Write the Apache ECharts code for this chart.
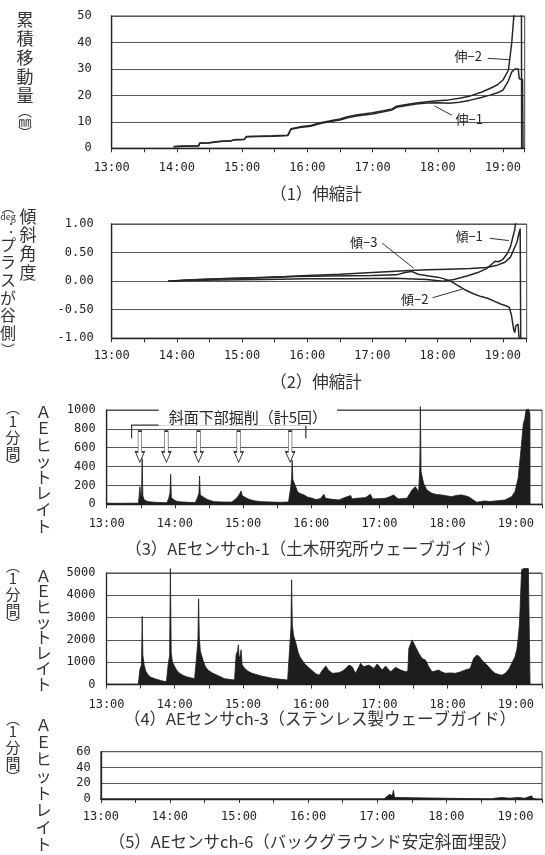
<!DOCTYPE html>
<html><head><meta charset="utf-8">
<script src="https://cdn.jsdelivr.net/npm/echarts@6/dist/echarts.min.js"></script>
<style>html,body{margin:0;padding:0;background:#fff}#c{width:545px;height:855px}</style>
</head><body><div id="c"></div>
<script>
// ---------- data (minutes after 13:00) ----------
const hourLabels = ['13:00','14:00','15:00','16:00','17:00','18:00','19:00'];

// (1) extensometers, cumulative displacement (mm)
const ext1 = [[57,0.6],[66,0.8],[80,0.9],[81,1.9],[89,2.0],[90,2.5],[100,2.6],[110,2.8],[112,3.1],[122,3.3],[124,4.4],[135,4.5],[148,4.6],[162,4.8],[165,7.2],[173,7.9],[183,8.3],[192,9.4],[200,10.0],[210,10.7],[217,11.5],[225,12.2],[240,13.0],[250,13.8],[258,14.5],[262,15.5],[270,16.1],[280,16.7],[290,17.1],[300,17.2],[310,17.0],[320,17.4],[330,18.2],[340,19.2],[348,20.1],[355,21.0],[360,22.0],[365,25.5],[368,28.8],[371,30.0],[374,30.0],[375,26.3],[378,26.0],[378.5,0]];
const ext2 = [[57,0.7],[66,0.9],[80,1.0],[81,2.0],[89,2.1],[90,2.6],[100,2.7],[110,2.9],[112,3.2],[122,3.4],[124,4.5],[135,4.6],[148,4.7],[162,4.9],[165,7.4],[173,8.1],[183,8.6],[192,9.7],[200,10.3],[210,11.1],[217,11.9],[225,12.6],[240,13.4],[250,14.2],[258,14.9],[262,15.9],[270,16.5],[280,17.1],[290,17.6],[300,18.0],[310,18.3],[320,18.9],[330,19.8],[340,21.2],[348,22.6],[355,24.0],[360,25.8],[365,29.5],[368,39.6],[370,49.7],[371,56],[377,56],[377.2,0]];

// (2) tilt meters (deg)
const tilt1 = [[52,0],[70,0.01],[100,0.02],[140,0.03],[180,0.04],[220,0.04],[260,0.05],[290,0.03],[305,0.0],[315,0.03],[327,0.09],[337,0.15],[345,0.22],[350,0.3],[353,0.35],[356,0.34],[360,0.38],[364,0.48],[367,0.6],[369,0.75],[371,0.9],[372,1.05]];
const tilt2 = [[52,0],[70,0.02],[100,0.04],[140,0.06],[170,0.08],[200,0.09],[240,0.1],[262,0.11],[270,0.15],[276,0.17],[282,0.12],[292,0.09],[300,0.07],[306,0.04],[312,0.0],[318,-0.07],[325,-0.15],[333,-0.22],[340,-0.27],[346,-0.3],[352,-0.35],[358,-0.4],[363,-0.43],[366,-0.46],[368,-0.6],[370,-0.85],[371,-0.9],[372,-0.78],[374,-0.75],[375,-1.0]];
const tilt3 = [[52,0],[70,0.02],[100,0.04],[130,0.06],[160,0.08],[180,0.1],[210,0.12],[240,0.15],[270,0.18],[290,0.2],[310,0.21],[330,0.22],[345,0.24],[355,0.28],[362,0.33],[367,0.42],[370,0.55],[373,0.68],[375,0.85],[376,0.92],[376.5,-1.0]];

// (3) AE ch-1 hit rate per minute
const aeCh1 = [[0,12],[10,10],[20,12],[28,12],[29.2,187],[30,80],[30.7,120],[31.2,488],[31.8,90],[33,46],[36.5,28],[42,22],[48.2,18],[53,16],[54.6,64],[55.7,120],[56.3,318],[56.9,70],[58,57],[60,40],[62.7,28],[70,22],[78,18],[80.2,81],[81.2,120],[81.7,300],[82.3,99],[84,80],[87.6,57],[91,40],[94.9,28],[103,24],[110,24],[113,50],[115.3,81],[117,110],[118.3,141],[119.3,90],[121,81],[124,60],[127,46],[131,35],[135.8,28],[145,24],[153.3,21],[160,25],[162,187],[162.7,280],[163.2,470],[163.8,260],[165,240],[166.5,180],[167.9,134],[170,115],[173.7,99],[177,75],[181,64],[184,50],[188,60],[191.2,106],[192.5,64],[197,55],[204.4,46],[209,70],[214.6,92],[216,57],[221,65],[227.8,71],[232,106],[234,57],[240,60],[245.3,64],[249,80],[252.6,99],[255,70],[257,57],[261,62],[264.2,64],[268.6,152],[271.6,187],[274.5,134],[275.5,400],[276,1035],[276.6,346],[278.8,223],[281.7,152],[286.1,117],[290,105],[294.9,99],[299,90],[303.6,81],[308,95],[312.4,99],[318.3,81],[322.6,46],[325.6,21],[329,30],[332.9,35],[337,30],[341.6,35],[346,40],[350.4,46],[356.2,81],[359.2,134],[362,276],[364.9,629],[366.5,850],[367.9,912],[369,1000],[371,1010],[372.4,960],[372.5,0]];

// (4) AE ch-3 hit rate per minute
const aeCh3 = [[0,15],[10,10],[20,12],[28,15],[29.3,650],[30.8,900],[31.4,3050],[32,1300],[33.1,880],[34.5,600],[36.6,430],[39,330],[42.5,260],[48.3,170],[52.7,120],[54.2,880],[55.5,1300],[56.2,5200],[56.9,1420],[58,1000],[60,800],[62,620],[64.4,500],[67,420],[70.2,350],[74,300],[77.5,260],[79,1100],[80.4,2000],[81,3840],[81.6,2150],[82.5,1500],[84.8,1100],[87,800],[89.2,650],[93,520],[98,400],[103.8,260],[108,230],[112.6,200],[114,1330],[115.3,1500],[116,1780],[116.6,1200],[117.6,1300],[118.4,1550],[119.2,900],[121,750],[124.2,600],[128,500],[133,430],[137,370],[141.7,320],[147,270],[153.5,230],[159.3,200],[160.8,1400],[162.2,2500],[162.8,4700],[163.4,2680],[164.5,2200],[166.6,1850],[168.5,1450],[170,1250],[173.9,950],[177,800],[181,620],[184,480],[187,420],[190,650],[193,830],[195,650],[198.7,500],[204.5,530],[208,620],[210.4,720],[213.3,870],[216,800],[219,500],[223.5,950],[226,800],[230.8,870],[235.2,720],[238,920],[242.5,650],[245.4,830],[249.8,570],[254.2,770],[258.6,650],[263,570],[265,600],[265.9,1620],[268.8,2000],[271.7,1700],[274.6,1400],[277.5,1170],[280.5,1100],[283.4,800],[286.3,570],[289,600],[292.1,650],[295,560],[298,500],[302,520],[306.8,500],[311,560],[315.5,650],[319.9,720],[322.8,1170],[325.7,1320],[328,1250],[330,1100],[333,950],[336,800],[339,620],[341.8,500],[345,450],[347.6,420],[350,480],[352,570],[354,700],[356.4,950],[359.3,1250],[361,1600],[362.2,2150],[363,2600],[363.7,3350],[364.4,4300],[365.1,5150],[367,5200],[369,5200],[371,5200],[372.4,5200],[372.5,0]];

// (5) AE ch-6 hit rate per minute
const aeCh6 = [[0,0],[246,0],[247,2],[249,4],[250,3],[251,6],[252,8],[253,4],[254,11],[255,2],[256,0],[340,0],[342,1],[348,2],[355,1],[362,2],[368,1],[374,4],[375,1],[378,0]];

// annotation anchors
const excavationTimes = [29.2, 52.5, 80.8, 116.1, 161.4];
const excavationBracket = [[21.9,700],[21.9,840],[175.2,840],[175.2,700]];

// ---------- styling helpers ----------
const CJK = '"Noto Sans CJK JP", sans-serif';
const TICK = '"DejaVu Sans Mono", monospace';
const INK = '#262626';
const plain = function(v){ return String(v); };

function xAx(g, max, margin){
  return {type:'value', gridIndex:g, min:0, max:max, interval:30,
    axisLine:{show:true, onZero:false, lineStyle:{color:'#222', width:1.3}},
    axisTick:{show:true, inside:false, length:4, lineStyle:{color:'#333', width:1}},
    axisLabel:{show:true, margin:margin, fontFamily:TICK, fontSize:12, color:'#222',
      formatter:function(v){ return (v % 60 === 0 && v/60 < hourLabels.length) ? hourLabels[v/60] : ''; }},
    splitLine:{show:false}};
}
function yAx(g, min, max, interval, margin, fmt){
  return {type:'value', gridIndex:g, min:min, max:max, interval:interval,
    axisLine:{show:true, lineStyle:{color:'#222', width:1.3}},
    axisTick:{show:false},
    axisLabel:{margin:margin, fontFamily:TICK, fontSize:12, color:'#222', formatter:fmt || plain},
    splitLine:{show:true, lineStyle:{color:'#555', width:1.2}}};
}
function lbl(text, coord){
  return {coord:coord, symbol:'circle', symbolSize:1, itemStyle:{color:'rgba(0,0,0,0)'},
    label:{show:true, position:'inside', formatter:text, fontFamily:CJK, fontSize:13, color:INK}};
}
function leader(a, b){ return [{coord:a},{coord:b}]; }
const leaderStyle = {symbol:['none','none'], silent:true, label:{show:false},
  lineStyle:{color:'#333', width:1, type:'solid'}, emphasis:{disabled:true}};

function lineSeries(data, xi, extra){
  return Object.assign({type:'line', xAxisIndex:xi, yAxisIndex:xi, data:data, showSymbol:false,
    lineStyle:{color:INK, width:1.5}, clip:true}, extra || {});
}
function areaSeries(data, xi){
  return {type:'line', xAxisIndex:xi, yAxisIndex:xi, data:data, showSymbol:false, clip:false,
    lineStyle:{color:'#1d1d1d', width:0.8}, areaStyle:{color:'#1d1d1d', opacity:1}};
}

function vcol(x, y, rich, text){
  return {type:'text', x:x, y:y, style:{text:text, rich:rich, fill:'#333', align:'center', verticalAlign:'top', textAlign:'center', textVerticalAlign:'top', font:'16px '+CJK}};
}
function ttl(x, y, text){
  return {type:'text', x:x, y:y, style:{text:text, fill:'#333', font:'16.5px '+CJK, align:'center', verticalAlign:'middle', textAlign:'center', textVerticalAlign:'middle'}};
}

const arrowPath = 'path://M3,0 L7,0 L7,24 L10,24 L5,36 L0,24 L3,24 Z';

const option = {
  animation:false,
  backgroundColor:'#fff',
  grid:[
    {left:111.7, top:16, width:413, height:132.3, show:true, borderColor:'#444', borderWidth:1},
    {left:111.7, top:224, width:415, height:114.3, show:true, borderColor:'#444', borderWidth:1},
    {left:106.7, top:410, width:437.3, height:94.3, show:true, borderColor:'#444', borderWidth:1},
    {left:106.5, top:573, width:437.3, height:111.5, show:true, borderColor:'#444', borderWidth:1},
    {left:100.8, top:751.7, width:441.7, height:47.3, show:true, borderColor:'#444', borderWidth:1}
  ],
  xAxis:[ xAx(0,380,14), xAx(1,382,12), xAx(2,383,14), xAx(3,383,14), xAx(4,383,12) ],
  yAxis:[
    yAx(0,0,50,10,20),
    yAx(1,-1,1,0.5,18,function(v){return v.toFixed(2);}),
    yAx(2,0,1000,200,11),
    yAx(3,0,5000,1000,11),
    yAx(4,0,60,20,10)
  ],
  series:[
    lineSeries(ext1, 0, {
      markPoint:{data:[lbl('伸−1',[329,11.0])]},
      markLine:Object.assign({data:[leader([313,12.5],[297,16])]}, leaderStyle)}),
    lineSeries(ext2, 0, {
      markPoint:{data:[lbl('伸−2',[328,34.8])]},
      markLine:Object.assign({data:[leader([346,34],[365.5,33.5])]}, leaderStyle)}),
    lineSeries(tilt1, 1, {
      markPoint:{data:[lbl('傾−1',[329,0.79])]},
      markLine:Object.assign({data:[leader([348,0.75],[365.6,0.71])]}, leaderStyle)}),
    lineSeries(tilt2, 1, {
      markPoint:{data:[lbl('傾−2',[279,-0.32])]},
      markLine:Object.assign({data:[leader([295.4,-0.29],[322.6,-0.14])]}, leaderStyle)}),
    lineSeries(tilt3, 1, {
      markPoint:{data:[lbl('傾−3',[232,0.69])]},
      markLine:Object.assign({data:[leader([249,0.665],[277.8,0.23])]}, leaderStyle)}),
    areaSeries(aeCh1, 2),
    {type:'line', xAxisIndex:2, yAxisIndex:2, data:excavationBracket, showSymbol:false, clip:false,
      lineStyle:{color:'#333', width:1.2},
      markPoint:{data:[
        {coord:[124.2,922], symbol:'circle', symbolSize:1, itemStyle:{color:'rgba(0,0,0,0)'},
          label:{show:true, position:'inside', formatter:'斜面下部掘削（計5回）', fontFamily:CJK, fontSize:15, color:INK, backgroundColor:'#fff', padding:[1,10]}}
      ].concat(excavationTimes.map(function(t){
        return {coord:[t,611], symbol:arrowPath, symbolSize:[9,31], symbolKeepAspect:false,
          itemStyle:{color:'#fff', borderColor:'#333', borderWidth:1}, label:{show:false}};
      }))}},
    areaSeries(aeCh3, 3),
    areaSeries(aeCh6, 4)
  ],
  graphic:[
    // (1)
    vcol(25, 10.5, {k:{fontSize:17, lineHeight:19, fontFamily:CJK, fill:'#333'}, p:{fontSize:14, lineHeight:10, fontFamily:CJK, fill:'#333'}, m:{fontSize:13, lineHeight:12, fontFamily:CJK, fill:'#333'}},
      '{k|累}\n{k|積}\n{k|移}\n{k|動}\n{k|量}\n{p|︵}\n{m|㎜}\n{p|︶}'),
    // (2)
    vcol(28, 206.7, {k:{fontSize:17, lineHeight:18.7, fontFamily:CJK, fill:'#333'}}, '{k|傾}\n{k|斜}\n{k|角}\n{k|度}'),
    vcol(8, 203, {p:{fontSize:13, lineHeight:9, fontFamily:CJK, fill:'#333'}, s:{fontSize:9, lineHeight:10, fontFamily:CJK, fill:'#333'}, c:{fontSize:16, lineHeight:17.6, fontFamily:CJK, fill:'#333'}, d:{fontSize:14, lineHeight:14, fontFamily:CJK, fill:'#333'}, q:{fontSize:14, lineHeight:16, fontFamily:CJK, fill:'#333'}},
      '{p|︵}\n{s|deg}\n{d|︓}\n{c|プ}\n{c|ラ}\n{c|ス}\n{c|が}\n{c|谷}\n{c|側}\n{q|︶}'),
    // (3)
    vcol(13, 403, {p:{fontSize:14, lineHeight:10, fontFamily:CJK, fill:'#333'}, c:{fontSize:15, lineHeight:16, fontFamily:CJK, fill:'#333'}}, '{p|︵}\n{c|1}\n{c|分}\n{c|間}\n{p|︶}'),
    vcol(43.5, 404, {c:{fontSize:16, lineHeight:16.2, fontFamily:CJK, fill:'#333'}}, '{c|Ａ}\n{c|Ｅ}\n{c|ヒ}\n{c|ッ}\n{c|ト}\n{c|レ}\n{c|イ}\n{c|ト}'),
    // (4)
    vcol(13, 560.5, {p:{fontSize:14, lineHeight:10, fontFamily:CJK, fill:'#333'}, c:{fontSize:15, lineHeight:16, fontFamily:CJK, fill:'#333'}}, '{p|︵}\n{c|1}\n{c|分}\n{c|間}\n{p|︶}'),
    vcol(43.5, 568, {c:{fontSize:16, lineHeight:15.4, fontFamily:CJK, fill:'#333'}}, '{c|Ａ}\n{c|Ｅ}\n{c|ヒ}\n{c|ッ}\n{c|ト}\n{c|レ}\n{c|イ}\n{c|ト}'),
    // (5)
    vcol(13, 713.5, {p:{fontSize:14, lineHeight:10, fontFamily:CJK, fill:'#333'}, c:{fontSize:15, lineHeight:16, fontFamily:CJK, fill:'#333'}}, '{p|︵}\n{c|1}\n{c|分}\n{c|間}\n{p|︶}'),
    vcol(43.5, 716.5, {c:{fontSize:16, lineHeight:17, fontFamily:CJK, fill:'#333'}}, '{c|Ａ}\n{c|Ｅ}\n{c|ヒ}\n{c|ッ}\n{c|ト}\n{c|レ}\n{c|イ}\n{c|ト}'),
    // titles
    ttl(316, 193.3, '（1）伸縮計'),
    ttl(316, 382, '（2）伸縮計'),
    ttl(313, 548.3, '（3）AEセンサch-1（土木研究所ウェーブガイド）'),
    ttl(320, 718.3, '（4）AEセンサch-3（ステンレス製ウェーブガイド）'),
    ttl(313, 841.7, '（5）AEセンサch-6（バックグラウンド安定斜面埋設）')
  ]
};

const chart = echarts.init(document.getElementById('c'), null, {renderer:'canvas'});
chart.setOption(option);
</script>
</body></html>
